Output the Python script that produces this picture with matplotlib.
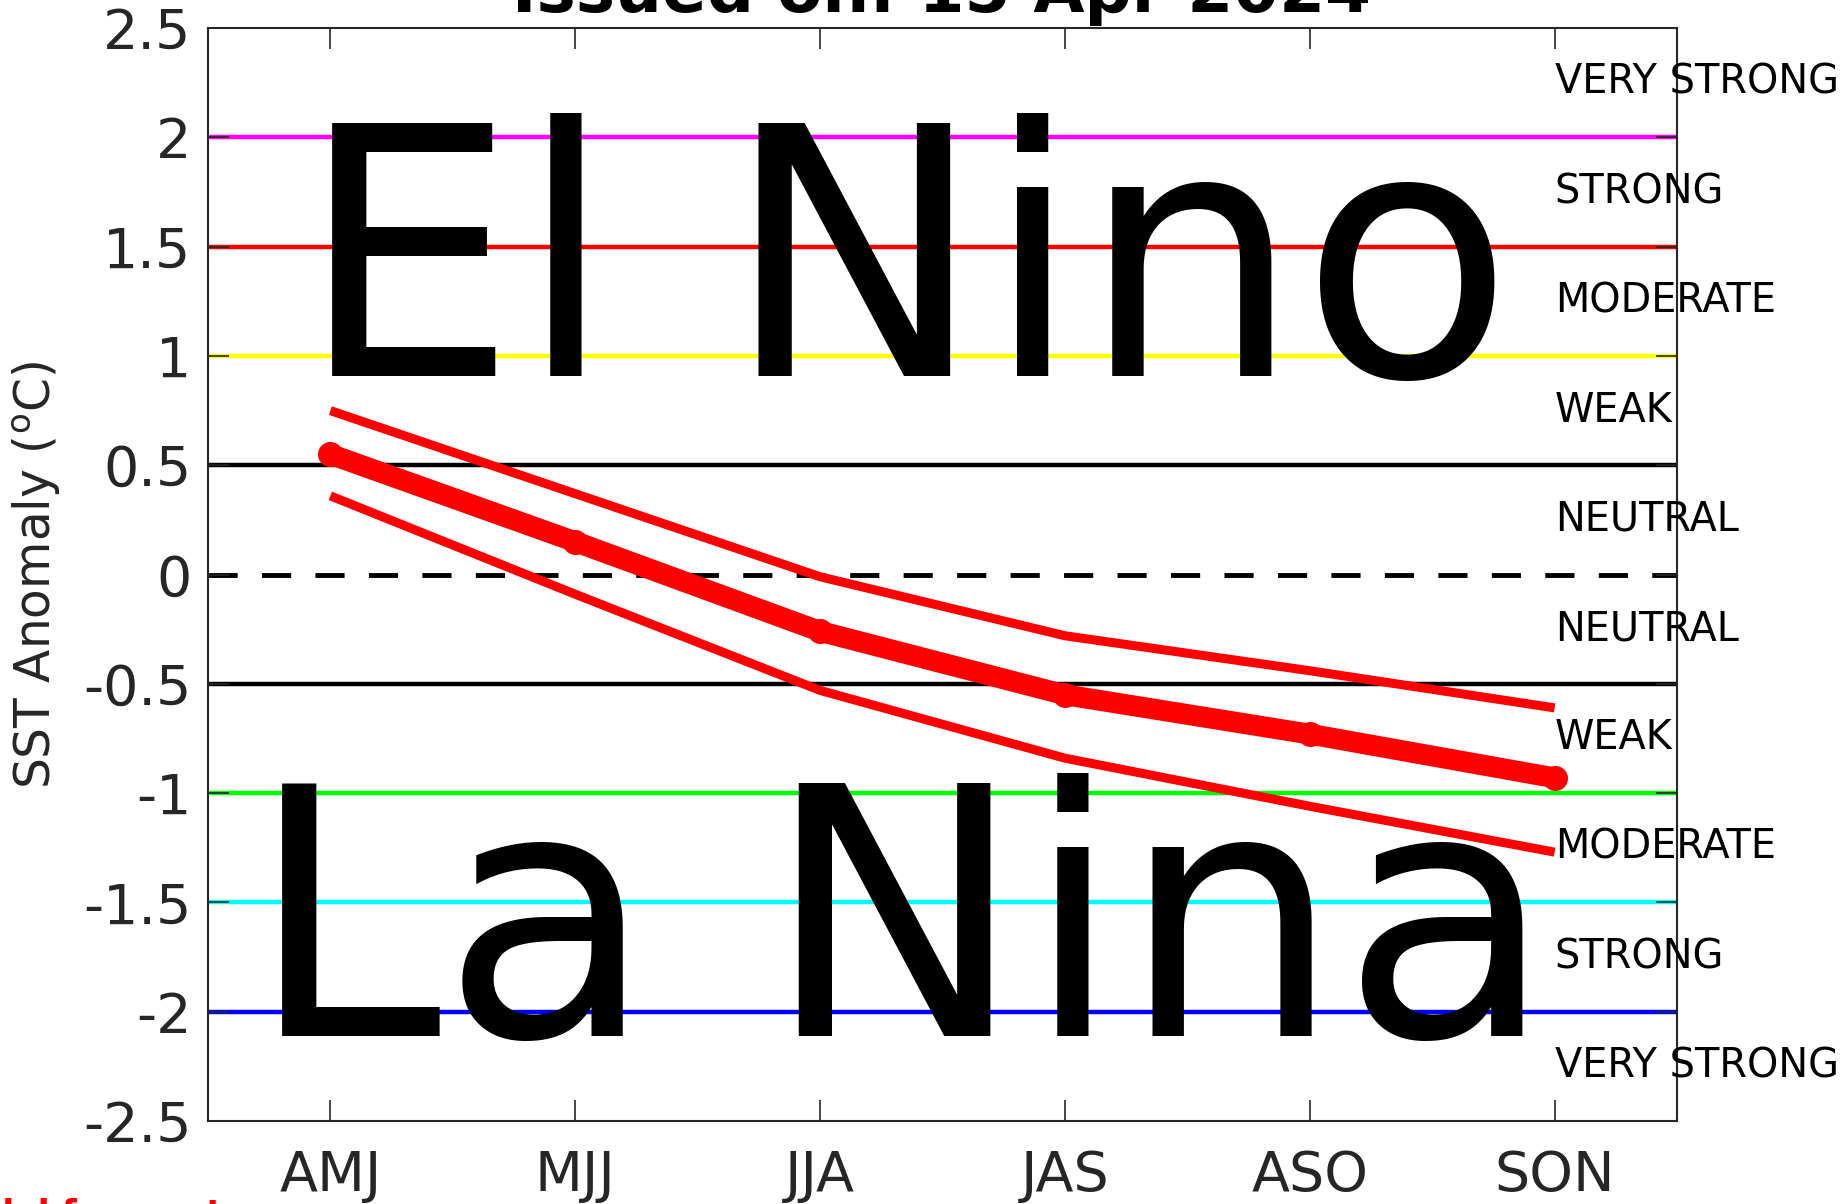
import numpy as np
import matplotlib.pyplot as plt

seasons = ['AMJ', 'MJJ', 'JJA', 'JAS', 'ASO', 'SON']
mean_fc = [0.55, 0.15, -0.26, -0.55, -0.73, -0.93]
upper_fc = [0.75, 0.37, -0.01, -0.28, -0.44, -0.61]
lower_fc = [0.36, -0.09, -0.53, -0.84, -1.06, -1.27]

thresholds = [2.0, 1.5, 1.0, 0.5, 0.0, -0.5, -1.0, -1.5, -2.0]
thr_colors = ['#ff00ff', '#ff0000', '#ffff00', 'black', 'black', 'black', '#00ff00', '#00ffff', '#0000ff']
thr_styles = ['-', '-', '-', '-', '--', '-', '-', '-', '-']

band_labels = ['VERY STRONG', 'STRONG', 'MODERATE', 'WEAK', 'NEUTRAL',
               'NEUTRAL', 'WEAK', 'MODERATE', 'STRONG', 'VERY STRONG']
band_centers = [2.25, 1.75, 1.25, 0.75, 0.25, -0.25, -0.75, -1.25, -1.75, -2.25]

fig = plt.figure(figsize=(18.45, 12.04), dpi=100)
ax = fig.add_axes([0.1127, 0.0689, 0.7963, 0.9078])
x = np.arange(1, len(seasons) + 1)

for y, c, ls in zip(thresholds, thr_colors, thr_styles):
    if ls == '--':
        ax.axhline(y, color=c, lw=3.5, dashes=(6, 5), zorder=1)
    else:
        ax.axhline(y, color=c, lw=3.2, zorder=1)

ax.text(3.35, 0.906, 'El Nino', fontsize=250, ha='center', va='baseline', zorder=2)
ax.text(3.33, -2.109, 'La Nina', fontsize=250, ha='center', va='baseline', zorder=2)

ax.plot(x, upper_fc, color='red', lw=6.5, solid_capstyle='butt', zorder=3)
ax.plot(x, lower_fc, color='red', lw=6.5, solid_capstyle='butt', zorder=3)
ax.plot(x, mean_fc, color='red', lw=15, marker='o', ms=17, solid_capstyle='butt', zorder=4)

for lab, yc in zip(band_labels, band_centers):
    ax.text(6.0, yc, lab, fontsize=28.7, ha='left', va='center', clip_on=False, zorder=5)

ax.set_xlim(0.5, 6.5)
ax.set_ylim(-2.5, 2.5)
ax.set_xticks(x)
ax.set_xticklabels(seasons)
ax.set_yticks([2.5, 2, 1.5, 1, 0.5, 0, -0.5, -1, -1.5, -2, -2.5])
ax.set_yticklabels(['2.5', '2', '1.5', '1', '0.5', '0', '-0.5', '-1', '-1.5', '-2', '-2.5'])
ax.tick_params(axis='both', direction='in', length=15, width=1.2, labelsize=40,
               colors='#262626', top=True, right=True)
ax.tick_params(axis='x', pad=20)
ax.tick_params(axis='y', pad=12)
for s in ax.spines.values():
    s.set_color('#262626')
    s.set_linewidth(1.5)
ax.set_ylabel('SST Anomaly ($^{\\rm o}$C)', fontsize=35, color='#262626', labelpad=14)

fig.text(0.5105, 0.990, 'Issued on: 15 Apr 2024', fontsize=47.5, fontweight='bold',
         ha='center', va='baseline')
fig.text(-0.0375, 0.005, 'Model forecast', fontsize=25, fontweight='bold', color='red',
         ha='left', va='top')

fig.savefig('out.png', dpi=100)
